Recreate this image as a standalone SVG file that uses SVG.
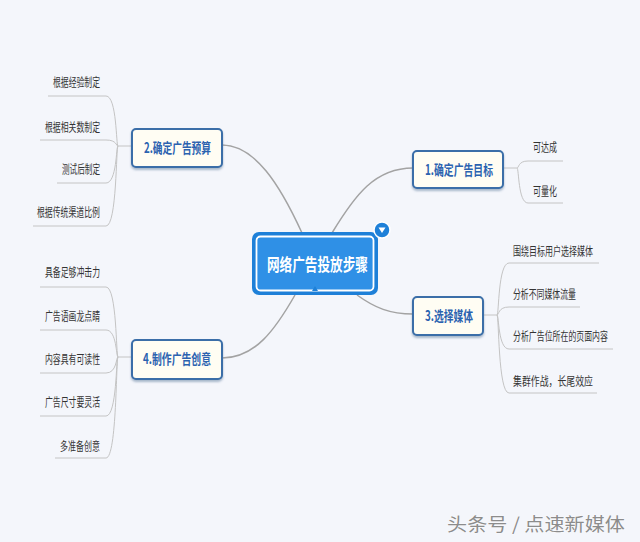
<svg xmlns="http://www.w3.org/2000/svg" width="640" height="542" viewBox="0 0 640 542">
<style>
.leaf{font-family:"Noto Sans CJK SC","Noto Sans",sans-serif;font-size:12px;fill:#333}
.sub{font-family:"Noto Sans CJK SC","Noto Sans",sans-serif;font-size:14px;font-weight:bold;fill:#2b62b0}
.box{fill:#fffdf3;stroke:#3a6ea8;stroke-width:2}
.main{fill:none;stroke:#a3a3a3;stroke-width:1.5}
.br{fill:none;stroke:#c4c4c4;stroke-width:1}
</style>
<defs>
<filter id="sh" x="-20%" y="-20%" width="140%" height="160%">
<feDropShadow dx="0" dy="2" stdDeviation="1.2" flood-color="#4a6a90" flood-opacity="0.45"/>
</filter>
</defs>
<rect width="640" height="542" fill="#f4f6fb"/>
<g id="connectors">
<path class="main" d="M222,145 C255,145 280,185 302,233"/>
<path class="main" d="M332,233 C355,195 375,168 413,168"/>
<path class="main" d="M295,295 C275,330 255,358 222,358"/>
<path class="main" d="M357,295 C375,308 390,314 413,314"/>
<path class="br" d="M132,146 L118,146 C116,146 117,96 106,96 L48,96"/>
<path class="br" d="M118,146 C116,146 117,140 106,140 L40,140"/>
<path class="br" d="M118,146 C116,146 117,183 106,183 L57,183"/>
<path class="br" d="M118,146 C116,146 117,226 106,226 L33,226"/>
<path class="br" d="M132,357 L118,357 C116,357 117,287 106,287 L40,287"/>
<path class="br" d="M118,357 C116,357 117,330 106,330 L40,330"/>
<path class="br" d="M118,357 C116,357 117,373 106,373 L40,373"/>
<path class="br" d="M118,357 C116,357 117,416 106,416 L40,416"/>
<path class="br" d="M118,357 C116,357 117,458 106,458 L55,458"/>
<path class="br" d="M503,168 L517,168 C519,168 518,161 528,161 L563,161"/>
<path class="br" d="M517,168 C519,168 518,203 528,203 L563,203"/>
<path class="br" d="M483,315 L497,315 C499,315 498,263 509,263 L599,263"/>
<path class="br" d="M497,315 C499,315 498,307 509,307 L580,307"/>
<path class="br" d="M497,315 C499,315 498,349 509,349 L613,349"/>
<path class="br" d="M497,315 C499,315 498,393 509,393 L597,393"/>
</g>
<g id="center">
<rect x="252" y="232" width="126" height="63" rx="7" fill="#1e80d8"/>
<rect x="256.5" y="236.5" width="117" height="54" rx="4" fill="#2f90e6" stroke="#ffffff" stroke-width="1.8"/>
<path d="M312,291 L315,286 L318,291 Z" fill="#1e80d8"/>
<text x="267" y="271" font-family="'Noto Sans CJK SC','Noto Serif',serif" font-size="17" font-weight="bold" fill="#ffffff" textLength="101" lengthAdjust="spacingAndGlyphs">网络广告投放步骤</text>
<circle cx="382" cy="230" r="8" fill="#1e80d8" stroke="#ffffff" stroke-width="1.5"/>
<path d="M378.5,227.5 L385.5,227.5 L382,233 Z" fill="#ffffff"/>
</g>
<g id="n1">
<rect class="box" x="413" y="151" width="90" height="37" rx="4" filter="url(#sh)"/>
<text class="sub" x="425" y="175" textLength="68" lengthAdjust="spacingAndGlyphs">1.确定广告目标</text>
</g>
<g id="n2">
<rect class="box" x="132" y="129" width="90" height="38" rx="4" filter="url(#sh)"/>
<text class="sub" x="144" y="153" textLength="67" lengthAdjust="spacingAndGlyphs">2.确定广告预算</text>
</g>
<g id="n3">
<rect class="box" x="413" y="297" width="70" height="38" rx="4" filter="url(#sh)"/>
<text class="sub" x="425" y="321" textLength="48" lengthAdjust="spacingAndGlyphs">3.选择媒体</text>
</g>
<g id="n4">
<rect class="box" x="132" y="340" width="90" height="39" rx="4" filter="url(#sh)"/>
<text class="sub" x="143" y="364" textLength="68" lengthAdjust="spacingAndGlyphs">4.制作广告创意</text>
</g>
<g id="leaves1">
<text class="leaf" x="533" y="152" textLength="24" lengthAdjust="spacingAndGlyphs">可达成</text>
<text class="leaf" x="533" y="196" textLength="24" lengthAdjust="spacingAndGlyphs">可量化</text>
</g>
<g id="leaves2">
<text class="leaf" x="53" y="87" textLength="47" lengthAdjust="spacingAndGlyphs">根据经验制定</text>
<text class="leaf" x="45" y="132" textLength="55" lengthAdjust="spacingAndGlyphs">根据相关数制定</text>
<text class="leaf" x="62" y="174" textLength="38" lengthAdjust="spacingAndGlyphs">测试后制定</text>
<text class="leaf" x="37" y="217" textLength="63" lengthAdjust="spacingAndGlyphs">根据传统渠道比例</text>
</g>
<g id="leaves3">
<text class="leaf" x="513" y="256" textLength="80" lengthAdjust="spacingAndGlyphs">围绕目标用户选择媒体</text>
<text class="leaf" x="513" y="299" textLength="63" lengthAdjust="spacingAndGlyphs">分析不同媒体流量</text>
<text class="leaf" transform="translate(513,341) scale(0.66,1)" x="0" y="0">分析广告位所在的页面内容</text>
<text class="leaf" x="513" y="386" textLength="80" lengthAdjust="spacingAndGlyphs">集群作战，长尾效应</text>
</g>
<g id="leaves4">
<text class="leaf" x="45" y="277" textLength="55" lengthAdjust="spacingAndGlyphs">具备足够冲击力</text>
<text class="leaf" x="45" y="321" textLength="55" lengthAdjust="spacingAndGlyphs">广告语画龙点睛</text>
<text class="leaf" x="45" y="364" textLength="55" lengthAdjust="spacingAndGlyphs">内容具有可读性</text>
<text class="leaf" x="45" y="407" textLength="55" lengthAdjust="spacingAndGlyphs">广告尺寸要灵活</text>
<text class="leaf" x="60" y="451" textLength="40" lengthAdjust="spacingAndGlyphs">多准备创意</text>
</g>
<text x="447" y="531" font-family="'Noto Sans CJK SC','Noto Sans',sans-serif" font-size="18" fill="#8c8c8c" stroke="#ffffff" stroke-width="0.6" paint-order="stroke" textLength="178" lengthAdjust="spacingAndGlyphs">头条号 / 点速新媒体</text>
</svg>
